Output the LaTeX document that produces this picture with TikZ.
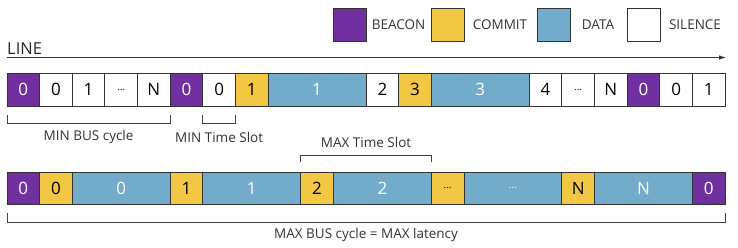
\documentclass[tikz,border=0pt]{standalone}
\usepackage{fontspec}
\setmainfont{Open Sans}
\usetikzlibrary{arrows.meta,positioning,calc}

\definecolor{beaconcol}{HTML}{7030A0}
\definecolor{commitcol}{HTML}{F2C744}
\definecolor{datacol}{HTML}{72ACCA}

\newcommand{\smalldots}{{\fontsize{10}{10}\selectfont...}}

\tikzset{
    slotbox/.style={draw=black!80, line width=0.9pt, minimum height=33pt,
        inner sep=0pt, outer sep=0pt, font=\fontsize{17}{17}\selectfont},
    beaconbox/.style={slotbox, fill=beaconcol, text=white},
    commitbox/.style={slotbox, fill=commitcol},
    databox/.style={slotbox, fill=datacol, text=white},
    silencebox/.style={slotbox, fill=white},
    bracket/.style={draw=black!75, line width=0.9pt},
    lbl/.style={font=\fontsize{13.5}{13.5}\selectfont, text=black!80, inner sep=0pt},
}

\begin{document}
\begin{tikzpicture}[x=1pt, y=1pt]
    \useasboundingbox (0,0) rectangle (738,247);
    \def\u{32.64}

    % Legend
    \foreach \st/\x/\tx/\t in {beaconbox/333/398.5/BEACON, commitbox/431/500/COMMIT,
                              databox/537/598/DATA, silencebox/627/695/SILENCE} {
        \node[\st, minimum width=33pt] (key\t) at (\x+16.5, 222.5) {};
        \node[lbl] (txt\t) at (\tx, 222.5) {\t};
    }

    % Line
    \node[anchor=base west, inner sep=0pt, font=\fontsize{16.5}{16.5}\selectfont, text=black!85]
        (linelbl) at (7, 193) {LINE};
    \coordinate (lstart) at (7, 189.5);
    \coordinate (lend) at (726, 189.5);
    \draw[-{Latex[length=7pt, width=4.5pt]}, line width=0.9pt, black!80] (lstart) -- (lend);

    % Min cycle row
    \foreach \a/\w/\st/\t [count=\i] in {0/1/beaconbox/0, 1/1/silencebox/0, 2/1/silencebox/1,
            3/1/silencebox/\smalldots, 4/1/silencebox/N, 5/1/beaconbox/0, 6/1/silencebox/0,
            7/1/commitbox/1, 8/3/databox/1, 11/1/silencebox/2, 12/1/commitbox/3, 13/3/databox/3,
            16/1/silencebox/4, 17/1/silencebox/\smalldots, 18/1/silencebox/N, 19/1/beaconbox/0,
            20/1/silencebox/0, 21/1/silencebox/1} {
        \node[\st, minimum width={\w*\u*1pt}] (top\i) at ({7+(\a+\w/2)*\u}, 157.5) {\t};
    }

    % Max cycle row
    \foreach \a/\w/\st/\t [count=\i] in {0/1/beaconbox/0, 1/1/commitbox/0, 2/3/databox/0,
            5/1/commitbox/1, 6/3/databox/1, 9/1/commitbox/2, 10/3/databox/2,
            13/1/commitbox/\smalldots, 14/3/databox/\smalldots, 17/1/commitbox/N,
            18/3/databox/N, 21/1/beaconbox/0} {
        \node[\st, minimum width={\w*\u*1pt}, minimum height=32pt] (bot\i) at ({7+(\a+\w/2)*\u}, 59) {\t};
    }

    % Brackets
    \draw[bracket] ([yshift=-9pt]top1.south west) |- ([yshift=-17pt]top5.south east) -- ([yshift=-9pt]top5.south east);
    \node[lbl] (minbus) at ($(top1.south west)!0.5!(top5.south east)+(0,-31)$) {MIN BUS cycle};

    \draw[bracket] ([yshift=-9pt]top7.south west) |- ([yshift=-17pt]top7.south east) -- ([yshift=-9pt]top7.south east);
    \node[lbl] (minslot) at ($(top7.south)+(0,-31)$) {MIN Time Slot};

    \draw[bracket] ([yshift=10pt]bot6.north west) |- ([yshift=17pt]bot7.north east) -- ([yshift=10pt]bot7.north east);
    \node[lbl] (maxslot) at ($(bot6.north west)!0.5!(bot7.north east)+(0,30)$) {MAX Time Slot};

    \draw[bracket] ([yshift=-9pt]bot1.south west) |- ([yshift=-18pt]bot12.south east) -- ([yshift=-9pt]bot12.south east);
    \node[lbl] (maxbus) at ($(bot1.south west)!0.5!(bot12.south east)+(0,-31)$) {MAX BUS cycle = MAX latency};
\end{tikzpicture}
\end{document}
